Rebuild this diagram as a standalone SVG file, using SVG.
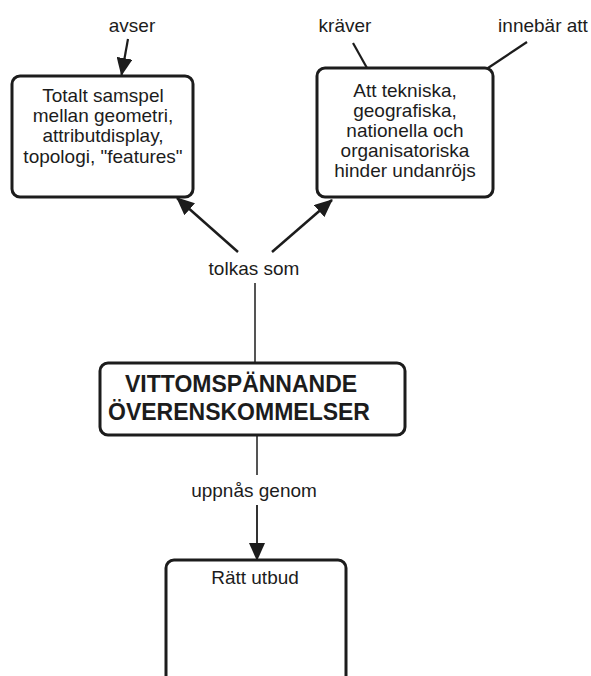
<svg xmlns="http://www.w3.org/2000/svg" width="591" height="676" viewBox="0 0 591 676">
  <style>
    .box { fill: #ffffff; stroke: #1c1c1c; stroke-width: 3; }
    .t { font-family: "Liberation Sans", Arial, sans-serif; font-size: 19px; fill: #1c1c1c; text-anchor: middle; }
    .title { font-family: "Liberation Sans", Arial, sans-serif; font-size: 23px; font-weight: bold; fill: #1c1c1c; }
    .link { stroke: #1c1c1c; fill: none; }
  </style>
  <defs>
    <marker id="arrow" markerUnits="userSpaceOnUse" markerWidth="18" markerHeight="16" refX="17" refY="8" orient="auto">
      <path d="M0,0 L18,8 L0,16 z" fill="#1c1c1c"/>
    </marker>
  </defs>
  <rect width="591" height="676" fill="#ffffff"/>

  <!-- connectors -->
  <g id="connectors">
    <line class="link" x1="128" y1="39" x2="121.5" y2="75" stroke-width="2.2" marker-end="url(#arrow)"/>
    <line class="link" x1="353" y1="43" x2="367" y2="68" stroke-width="2.2"/>
    <line class="link" x1="527" y1="42" x2="488" y2="68" stroke-width="2.2"/>
    <line class="link" x1="238" y1="252" x2="177" y2="198" stroke-width="2.5" marker-end="url(#arrow)"/>
    <line class="link" x1="272" y1="252" x2="332" y2="200" stroke-width="2.5" marker-end="url(#arrow)"/>
    <line class="link" x1="255" y1="283" x2="255" y2="363" stroke-width="1.5"/>
    <line class="link" x1="257" y1="435" x2="257" y2="475" stroke-width="1.5"/>
    <line class="link" x1="257" y1="505" x2="257" y2="560" stroke-width="1.8" marker-end="url(#arrow)"/>
    <text class="t" x="132" y="32">avser</text>
    <text class="t" x="345" y="32">kräver</text>
    <text class="t" x="543" y="32">innebär att</text>
    <text class="t" x="254" y="275">tolkas som</text>
    <text class="t" x="254" y="497">uppnås genom</text>
  </g>

  <!-- node: totalt samspel -->
  <g id="node-samspel">
    <rect class="box" x="12" y="76" width="181" height="121" rx="8"/>
    <text class="t" x="103" y="102">Totalt samspel</text>
    <text class="t" x="103" y="122">mellan geometri,</text>
    <text class="t" x="103" y="142">attributdisplay,</text>
    <text class="t" x="103" y="162.5">topologi,  "features"</text>
  </g>

  <!-- node: hinder undanröjs -->
  <g id="node-hinder">
    <rect class="box" x="317" y="68" width="176" height="129" rx="8"/>
    <text class="t" x="405" y="97">Att tekniska,</text>
    <text class="t" x="405" y="117">geografiska,</text>
    <text class="t" x="405" y="137">nationella och</text>
    <text class="t" x="405" y="157">organisatoriska</text>
    <text class="t" x="405" y="177">hinder undanröjs</text>
  </g>

  <!-- node: vittomspännande överenskommelser -->
  <g id="node-overenskommelser">
    <rect class="box" x="100" y="363" width="305" height="72" rx="8"/>
    <text class="title" x="125" y="392">VITTOMSPÄNNANDE</text>
    <text class="title" x="108" y="420">ÖVERENSKOMMELSER</text>
  </g>

  <!-- node: rätt utbud -->
  <g id="node-utbud">
    <rect class="box" x="166" y="560" width="180" height="160" rx="8"/>
    <text class="t" x="255" y="584">Rätt utbud</text>
  </g>
</svg>
